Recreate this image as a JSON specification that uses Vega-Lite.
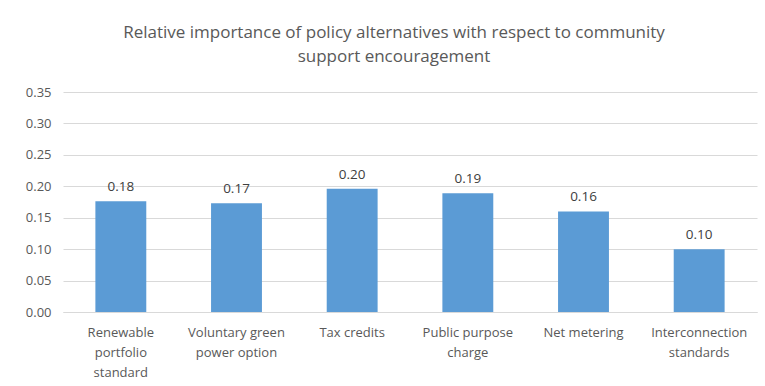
{
  "$schema": "https://vega.github.io/schema/vega-lite/v6.json",
  "autosize": {"type": "none"},
  "width": 694,
  "height": 220,
  "padding": {"left": 63, "top": 92, "right": 8, "bottom": 74},
  "background": "white",
  "title": {
    "text": ["Relative importance of policy alternatives with respect to community", "support encouragement"],
    "anchor": "middle",
    "dx": -16,
    "offset": 20,
    "font": "Open Sans",
    "fontSize": 17,
    "fontWeight": "normal",
    "color": "#595959",
    "lineHeight": 24
  },
  "data": {
    "values": [
      {"policy": "Renewable|portfolio|standard", "importance": 0.176},
      {"policy": "Voluntary green|power option", "importance": 0.173},
      {"policy": "Tax credits", "importance": 0.196},
      {"policy": "Public purpose|charge", "importance": 0.189},
      {"policy": "Net metering", "importance": 0.160},
      {"policy": "Interconnection|standards", "importance": 0.100}
    ]
  },
  "encoding": {
    "x": {
      "field": "policy",
      "type": "nominal",
      "sort": null,
      "scale": {"paddingInner": 0.56, "paddingOuter": 0.28},
      "axis": {
        "title": null,
        "labelAngle": 0,
        "labelExpr": "split(datum.label, '|')",
        "labelFont": "Open Sans",
        "labelFontSize": 13,
        "labelColor": "#595959",
        "labelLineHeight": 20,
        "labelPadding": 14,
        "ticks": false,
        "domainColor": "#d9d9d9",
        "labelLimit": 200
      }
    },
    "y": {
      "field": "importance",
      "type": "quantitative",
      "scale": {"domain": [0, 0.35], "nice": false},
      "axis": {
        "title": null,
        "values": [0, 0.05, 0.1, 0.15, 0.2, 0.25, 0.3, 0.35],
        "format": ".2f",
        "labelFont": "Open Sans",
        "labelFontSize": 13,
        "labelColor": "#595959",
        "labelPadding": 12,
        "ticks": false,
        "domain": false,
        "gridColor": "#d9d9d9"
      }
    }
  },
  "layer": [
    {"mark": {"type": "bar", "color": "#5B9BD5"}},
    {
      "mark": {"type": "text", "baseline": "bottom", "dy": -7, "font": "Open Sans", "fontSize": 13.5, "color": "#404040"},
      "encoding": {"text": {"field": "importance", "type": "quantitative", "format": ".2f"}}
    }
  ],
  "config": {"view": {"stroke": null}}
}
